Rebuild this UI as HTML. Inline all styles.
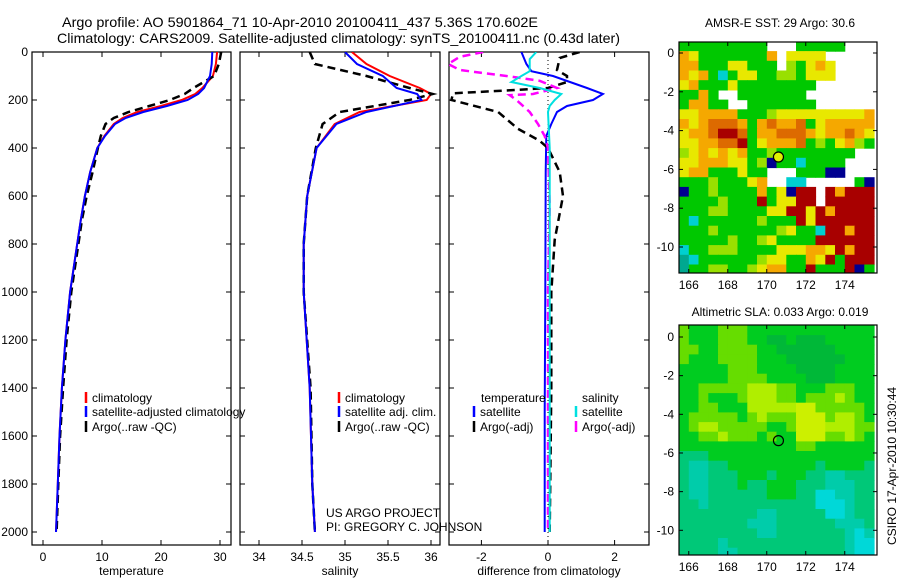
<!DOCTYPE html>
<html><head><meta charset="utf-8">
<style>
html,body{margin:0;padding:0;background:#fff;}
svg{display:block;font-family:"Liberation Sans",sans-serif;}
text{font-size:12px;fill:#000;}
</style></head>
<body>
<svg id="fig" width="900" height="580" viewBox="0 0 900 580" xmlns="http://www.w3.org/2000/svg">
<text x="62" y="27" style="font-size:14px" textLength="476" lengthAdjust="spacingAndGlyphs">Argo profile: AO 5901864_71 10-Apr-2010 20100411_437 5.36S 170.602E</text>
<text x="57" y="43" style="font-size:14px" textLength="563" lengthAdjust="spacingAndGlyphs">Climatology: CARS2009. Satellite-adjusted climatology: synTS_20100411.nc (0.43d later)</text>
<text x="780" y="27" text-anchor="middle">AMSR-E SST: 29 Argo: 30.6</text>
<text x="780" y="316" text-anchor="middle">Altimetric SLA: 0.033 Argo: 0.019</text>
<text transform="translate(896,545) rotate(-90)">CSIRO 17-Apr-2010 10:30:44</text>
<g id="g"></g>
</svg>
<script>
// ---- profile data ----
const depthsT = [0,50,100,150,175,200,225,250,275,300,350,400,500,600,700,800,1000,1200,1400,1600,1800,2000];
const tempClim = [29.5,29.3,28.8,27,25.8,23.5,20,16,13.5,12,10.4,9.2,8.0,7.1,6.4,5.8,4.6,3.8,3.2,2.8,2.5,2.2];
const tempSat  = [28.7,28.6,28.3,27.3,26.3,24.5,21,17,14,12.2,10.5,9.2,8.0,7.1,6.4,5.8,4.6,3.8,3.2,2.8,2.5,2.2];
const tempArgo = [30.2,29.8,29,25.5,24,21.5,18,14.5,12,10.6,9.8,9.3,8.4,7.4,6.6,6.0,4.8,4.0,3.4,2.9,2.6,2.3];
const depthsS = [0,50,100,150,175,200,250,300,400,600,800,1000,1400,1800,2000];
const salClim = [35.08,35.25,35.52,35.87,36.0,35.95,35.17,34.88,34.67,34.56,34.52,34.52,34.59,34.62,34.65];
const salSat  = [35.0,35.14,35.44,35.6,35.84,35.89,35.25,34.9,34.67,34.56,34.52,34.52,34.59,34.62,34.65];
const salArgo = [34.59,34.65,35.25,35.75,36.02,35.75,34.94,34.74,34.66,34.56,34.52,34.52,34.6,34.62,34.65];
const dTd = [0,50,80,100,150,175,200,225,250,300,350,500,1000,1500,2000];
const dTempSat = [-0.8,-0.65,-0.5,0.15,1.17,1.65,1.35,0.57,0.27,0.1,-0.05,-0.07,-0.08,-0.1,-0.1];
const dSd = [0,30,80,100,125,150,175,200,225,250,400,1000,2000];
const dSalSat = [-0.35,-0.55,-0.55,-0.8,-1.1,-0.25,0.4,0.2,0.05,0,0.05,0.05,0.05];
const dAd = [0,25,75,100,125,150,160,172,200,250,320,370,400,500,600,783,1000,1400,2000];
const dTempArgo = [0.95,0.35,0.27,0.57,0.57,0,-1.2,-2.85,-2.9,-1.5,-0.9,-0.25,0,0.35,0.45,0.2,0.1,0.1,0.05];
const dMd = [0,20,50,75,100,120,150,175,180,200,250,300,350,400,643,1000,2000];
const dSalArgo = [-1.95,-2.65,-3,-2.65,-1.25,-0.25,0.27,-0.45,-1.15,-0.95,-0.55,-0.3,-0.1,0,0.05,0,0];
const tTicks = [0,10,20,30], sTicks = [34,34.5,35,35.5,36], dTicks = [-2,0,2];
const zTicks = [0,200,400,600,800,1000,1200,1400,1600,1800,2000];
// ---- map data ----
const lonTicks=[166,168,170,172,174], latTicks=[0,-2,-4,-6,-8,-10];
const floatLon=170.6, floatLat=-5.36;
const sstRows=[
"gggggggggWWWgggggWWW","oygggggggoWyyyyWWWWW","oogggyygggWlgyoyWWWW","oyogcgyyggllgyyyWWWW",
"yogggyggggggggWWWWWW","ggogWWgggggggWWWWWWW","googgWWgggggggWWWWWW","yyooooggglyyyyyyyyyo",
"oyorrrogoroorgyooooo","yoorRRrgoorrroyooroy","yyoorrRgyooorglgyolg","lyoyoyogglggggggggWW",
"yyoooyyglbggcggggWWW","yoogggyggWWWgggbbWWW","ggglgggyoWWccWWWWWgb","bgglggggogybRRWRoRRR",
"gggglgggRgyyRRWRRRRR","gggllggggyyRRyRoRRRR","gcgggggglgggRyRRRRRR","ggglgggggglyggcRRoRR",
"ggggglgglyggggRRRRRR","cgglllggggyyyooyRoRR","tcgggggglyyggoyRgRRR","tggllgglyooggRgggRbg"];
const slaRows=[
"laaalllaaaaaaaaaaaaa","laaalllaabbabbbaaaaa","llaallllaabbbbbbaaaa","laaallllaaabbbbbbaaa",
"aaaaalllaaaabbbbaaaa","aaaaallllaaaabbbaaaa","aalllllyyyllaaalllaa","aalaaalyyyllalllylaa",
"aallaaayyyyyYYllllla","alllllalylllYYYlyyla","alyylllllaalYYYyyyll","aallylllalaaYYYllyla",
"aaaaaaaaaaaallaaaaaa","tttaaaaaaaaaaaaaaaaa","tccttaaaaaaaaataaaat","tcctttaaataaattccttt",
"tcctttattaaatttccctt","tccttttttaaattCCcctt","ttctttttttttttCCCctt","ttttttttcctttttCCctt",
"tttttttcccttttttccct","ttttttttcctttttttcCc","ttttcttttttttttttcCC","ttttcctttttttttttcCC"];
const sstColors={g:"#00c800",l:"#99e000",y:"#e8e800",o:"#f5a800",r:"#dd6a00",R:"#a80000",c:"#00d0d0",b:"#000090",t:"#00a890"};
const slaColors={a:"#00cc20",b:"#00b838",l:"#66dd00",y:"#b0ee00",Y:"#ccf000",t:"#00c878",c:"#00ccaa",C:"#00d8d8"};

const NS="http://www.w3.org/2000/svg";
const G=document.getElementById('g');
function mk(tag,at,parent){const e=document.createElementNS(NS,tag);for(const k in at)e.setAttribute(k,at[k]);(parent||G).appendChild(e);return e;}
const yZ=d=>52+d*0.24;
const FT=52,FB=545;
const panels=[
 {x0:32,x1:231,sx:v=>43+v*5.9,ticks:tTicks,lab:"temperature",name:"temperature"},
 {x0:240,x1:440,sx:v=>345+(v-35)*86,ticks:sTicks,lab:"salinity",name:"salinity"},
 {x0:449,x1:649,sx:v=>548+v*33.3,ticks:dTicks,lab:"difference from climatology",name:"difference"}];
panels.forEach((p,pi)=>{
  const cp=mk('clipPath',{id:'cp'+pi});
  mk('rect',{x:p.x0,y:FT,width:p.x1-p.x0,height:FB-FT},cp);
  const fr=mk('rect',{x:p.x0,y:FT,width:p.x1-p.x0,height:FB-FT,fill:'none',stroke:'#000','stroke-width':1.2});
  
  
  p.ticks.forEach(t=>{const x=p.sx(t);
    mk('line',{x1:x,x2:x,y1:FB,y2:FB-5,stroke:'#000'});mk('line',{x1:x,x2:x,y1:FT,y2:FT+5,stroke:'#000'});
    const tx=mk('text',{x:x,y:FB+16,'text-anchor':'middle'});tx.textContent=t;
    
    });
  zTicks.forEach(z=>{const y=yZ(z);
    mk('line',{x1:p.x0,x2:p.x0+5,y1:y,y2:y,stroke:'#000'});mk('line',{x1:p.x1,x2:p.x1-5,y1:y,y2:y,stroke:'#000'});
    if(pi==0){const tx=mk('text',{x:28,y:y+4,'text-anchor':'end'});tx.textContent=z;
      
      }});
  const xl=mk('text',{x:(p.x0+p.x1)/2+(pi==2?0:0),y:575,'text-anchor':'middle'});xl.textContent=p.lab;
  
  
});
// zero line in difference panel
const zl=mk('line',{x1:548,x2:548,y1:FT,y2:FB,stroke:'#000','stroke-dasharray':'1,3'});


function line(pi,ds,vs,color,w,dash,name){
  const p=panels[pi];
  const pts=ds.map((d,i)=>p.sx(vs[i]).toFixed(1)+','+yZ(d).toFixed(1)).join(' ');
  const at={points:pts,fill:'none',stroke:color,'stroke-width':w,'clip-path':'url(#cp'+pi+')'};
  if(dash)at['stroke-dasharray']=dash;
  const e=mk('polyline',at);
  
  
}
line(0,depthsT,tempClim,'#ff0000',2,null,'temperature-climatology-line');
line(0,depthsT,tempArgo,'#000',2.5,'8,5','temperature-argo-line');
line(0,depthsT,tempSat,'#0000ff',2,null,'temperature-satellite-line');
line(1,depthsS,salClim,'#ff0000',2,null,'salinity-climatology-line');
line(1,depthsS,salArgo,'#000',2.5,'8,5','salinity-argo-line');
line(1,depthsS,salSat,'#0000ff',2,null,'salinity-satellite-line');
line(2,dTd,dTempSat,'#0000ff',2,null,'diff-temperature-satellite-line');
line(2,dAd,dTempArgo,'#000',2.5,'8,5','diff-temperature-argo-line');
line(2,dMd,dSalArgo,'#ff00ff',2.5,'8,5','diff-salinity-argo-line');
line(2,dSd,dSalSat,'#00e0e0',2,null,'diff-salinity-satellite-line');
// legends
function leg(x,y,color,txt,name){
  const l=mk('line',{x1:x,x2:x,y1:y-10,y2:y+1,stroke:color,'stroke-width':2.5});
  
  
  const t=mk('text',{x:x+6,y:y});t.textContent=txt;
  
  
}
leg(86,402,'#ff0000','climatology','legend-temp-climatology');
leg(86,416,'#0000ff','satellite-adjusted climatology','legend-temp-satellite');
leg(86,431,'#000','Argo(..raw -QC)','legend-temp-argo');
leg(339,402,'#ff0000','climatology','legend-sal-climatology');
leg(339,416,'#0000ff','satellite adj. clim.','legend-sal-satellite');
leg(339,431,'#000','Argo(..raw -QC)','legend-sal-argo');
leg(474,416,'#0000ff','satellite','legend-diff-temp-satellite');
leg(474,431,'#000','Argo(-adj)','legend-diff-temp-argo');
leg(576,416,'#00e0e0','satellite','legend-diff-sal-satellite');
leg(576,431,'#ff00ff','Argo(-adj)','legend-diff-sal-argo');
[[481,402,'temperature','legend-temperature-heading'],[582,402,'salinity','legend-salinity-heading'],
 [326,517,'US ARGO PROJECT','project-credit'],[326,531,'PI: GREGORY C. JOHNSON','pi-credit']].forEach(a=>{
  const t=mk('text',{x:a[0],y:a[1]});t.textContent=a[2];
  
  });
// maps
const ML=679,MR=877,lon0=165.5;
const mx=lon=>ML+(lon-lon0)*19.5;
const maps=[{top:42,bot:273,z:53,s:19.4,rows:sstRows,col:sstColors,name:'sst-map'},
            {top:325,bot:555,z:337,s:19.33,rows:slaRows,col:slaColors,name:'sla-map'}];
maps.forEach((m,mi)=>{
  const my=lat=>m.z-lat*m.s;
  const cp=mk('clipPath',{id:'mc'+mi});
  mk('rect',{x:ML,y:m.top,width:MR-ML,height:m.bot-m.top},cp);
  const g=mk('g',{'clip-path':'url(#mc'+mi+')'});
  
  
  m.rows.forEach((r,j)=>{const lat=0.6-0.5*j;
    for(let i=0;i<r.length;i++){const ch=r[i];if(ch==='W')continue;
      const lon=lon0+0.5*i;
      const c=mk('rect',{x:mx(lon).toFixed(1),y:my(lat).toFixed(1),width:(mx(lon+0.5)-mx(lon)+0.6).toFixed(1),height:(my(lat-0.5)-my(lat)+0.6).toFixed(1),fill:m.col[ch]},g);
      
      
    }});
  const fr=mk('rect',{x:ML,y:m.top,width:MR-ML,height:m.bot-m.top,fill:'none',stroke:'#000','stroke-width':1.2});
  
  
  lonTicks.forEach(l=>{const x=mx(l);
    mk('line',{x1:x,x2:x,y1:m.bot,y2:m.bot-4,stroke:'#000'});mk('line',{x1:x,x2:x,y1:m.top,y2:m.top+4,stroke:'#000'});
    const t=mk('text',{x:x,y:m.bot+16,'text-anchor':'middle'});t.textContent=l;
    
    });
  latTicks.forEach(l=>{const y=my(l);
    mk('line',{x1:ML,x2:ML+4,y1:y,y2:y,stroke:'#000'});mk('line',{x1:MR,x2:MR-4,y1:y,y2:y,stroke:'#000'});
    const t=mk('text',{x:674,y:y+4,'text-anchor':'end'});t.textContent=l;
    
    });
  const c=mk('circle',{cx:mx(floatLon),cy:my(floatLat),r:5,fill:mi==0?'#e0f000':'none',stroke:'#000','stroke-width':1.2});
  
  
});
</script>
</body></html>
